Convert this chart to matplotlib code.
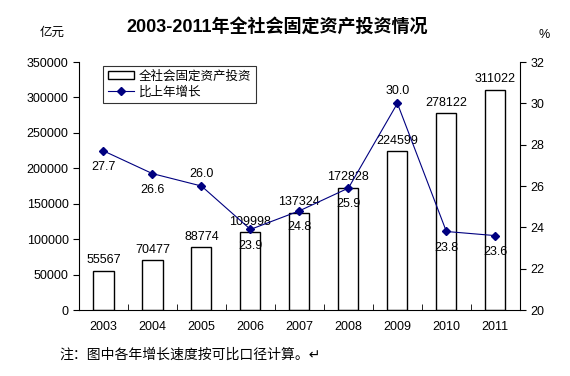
import matplotlib.pyplot as plt
from matplotlib.ticker import FixedLocator

plt.rcParams['font.family'] = ['Liberation Sans', 'Noto Sans CJK SC', 'DejaVu Sans']

years = ["2003", "2004", "2005", "2006", "2007", "2008", "2009", "2010", "2011"]
investment = [55567, 70477, 88774, 109998, 137324, 172828, 224599, 278122, 311022]
growth = [27.7, 26.6, 26.0, 23.9, 24.8, 25.9, 30.0, 23.8, 23.6]
# label above (1) or below (-1) the growth point
growth_pos = [-1, -1, 1, -1, -1, -1, 1, -1, -1]

navy = "#000080"
x = list(range(len(years)))
fs = 9

fig = plt.figure(figsize=(5.7, 3.76), dpi=100)
ax = fig.add_axes([0.1386, 0.1755, 0.7734, 0.6595])

bars = ax.bar(x, investment, width=0.41, color="white", edgecolor="black",
              linewidth=1, label="全社会固定资产投资", zorder=2)
for xi, v in zip(x, investment):
    ax.text(xi, v + 6000, str(v), ha="center", va="bottom", fontsize=fs)

ax.set_xlim(-0.5, len(years) - 0.5)
ax.set_ylim(0, 350000)
ax.set_yticks(range(0, 350001, 50000))
ax.set_yticklabels([str(v) for v in range(0, 350001, 50000)], fontsize=fs)
ax.set_xticks(x)
ax.set_xticklabels(years, fontsize=fs)
ax.tick_params(axis="x", which="major", length=0, pad=8)
ax.xaxis.set_minor_locator(FixedLocator([i + 0.5 for i in range(-1, len(years))]))
ax.tick_params(axis="x", which="minor", direction="in", length=4)
ax.tick_params(axis="y", direction="out", length=4)
for s in ["top", "right"]:
    ax.spines[s].set_visible(False)

ax2 = ax.twinx()
line, = ax2.plot(x, growth, color=navy, lw=0.8, marker="D", markersize=4,
                 label="比上年增长", zorder=3)
for xi, g, p in zip(x, growth, growth_pos):
    off = 0.3 if p > 0 else -0.5
    ax2.text(xi, g + off, f"{g:.1f}", ha="center",
             va="bottom" if p > 0 else "top", fontsize=fs)
ax2.set_ylim(20, 32)
ax2.set_yticks(range(20, 33, 2))
ax2.set_yticklabels([str(v) for v in range(20, 33, 2)], fontsize=fs)
ax2.tick_params(axis="y", direction="out", length=4)
for s in ["top", "left", "bottom"]:
    ax2.spines[s].set_visible(False)

leg = ax.legend([bars, line], ["全社会固定资产投资", "比上年增长"],
                loc="upper left", bbox_to_anchor=(0.055, 0.985), fontsize=9,
                frameon=True, fancybox=False, edgecolor="black",
                handlelength=2.1, borderpad=0.35, labelspacing=0.3,
                handletextpad=0.4, borderaxespad=0)
leg.get_frame().set_linewidth(0.8)

fig.text(0.486, 0.915, "2003-2011年全社会固定资产投资情况", ha="center",
         fontsize=13, fontweight="bold")
fig.text(0.07, 0.905, "亿元", fontsize=fs)
fig.text(0.955, 0.9, "%", fontsize=fs, ha="center")
fig.text(0.105, 0.045, "注：图中各年增长速度按可比口径计算。↵", fontsize=10,
         family=["Noto Sans CJK SC", "DejaVu Sans"])

fig.savefig("out.png", dpi=100)
